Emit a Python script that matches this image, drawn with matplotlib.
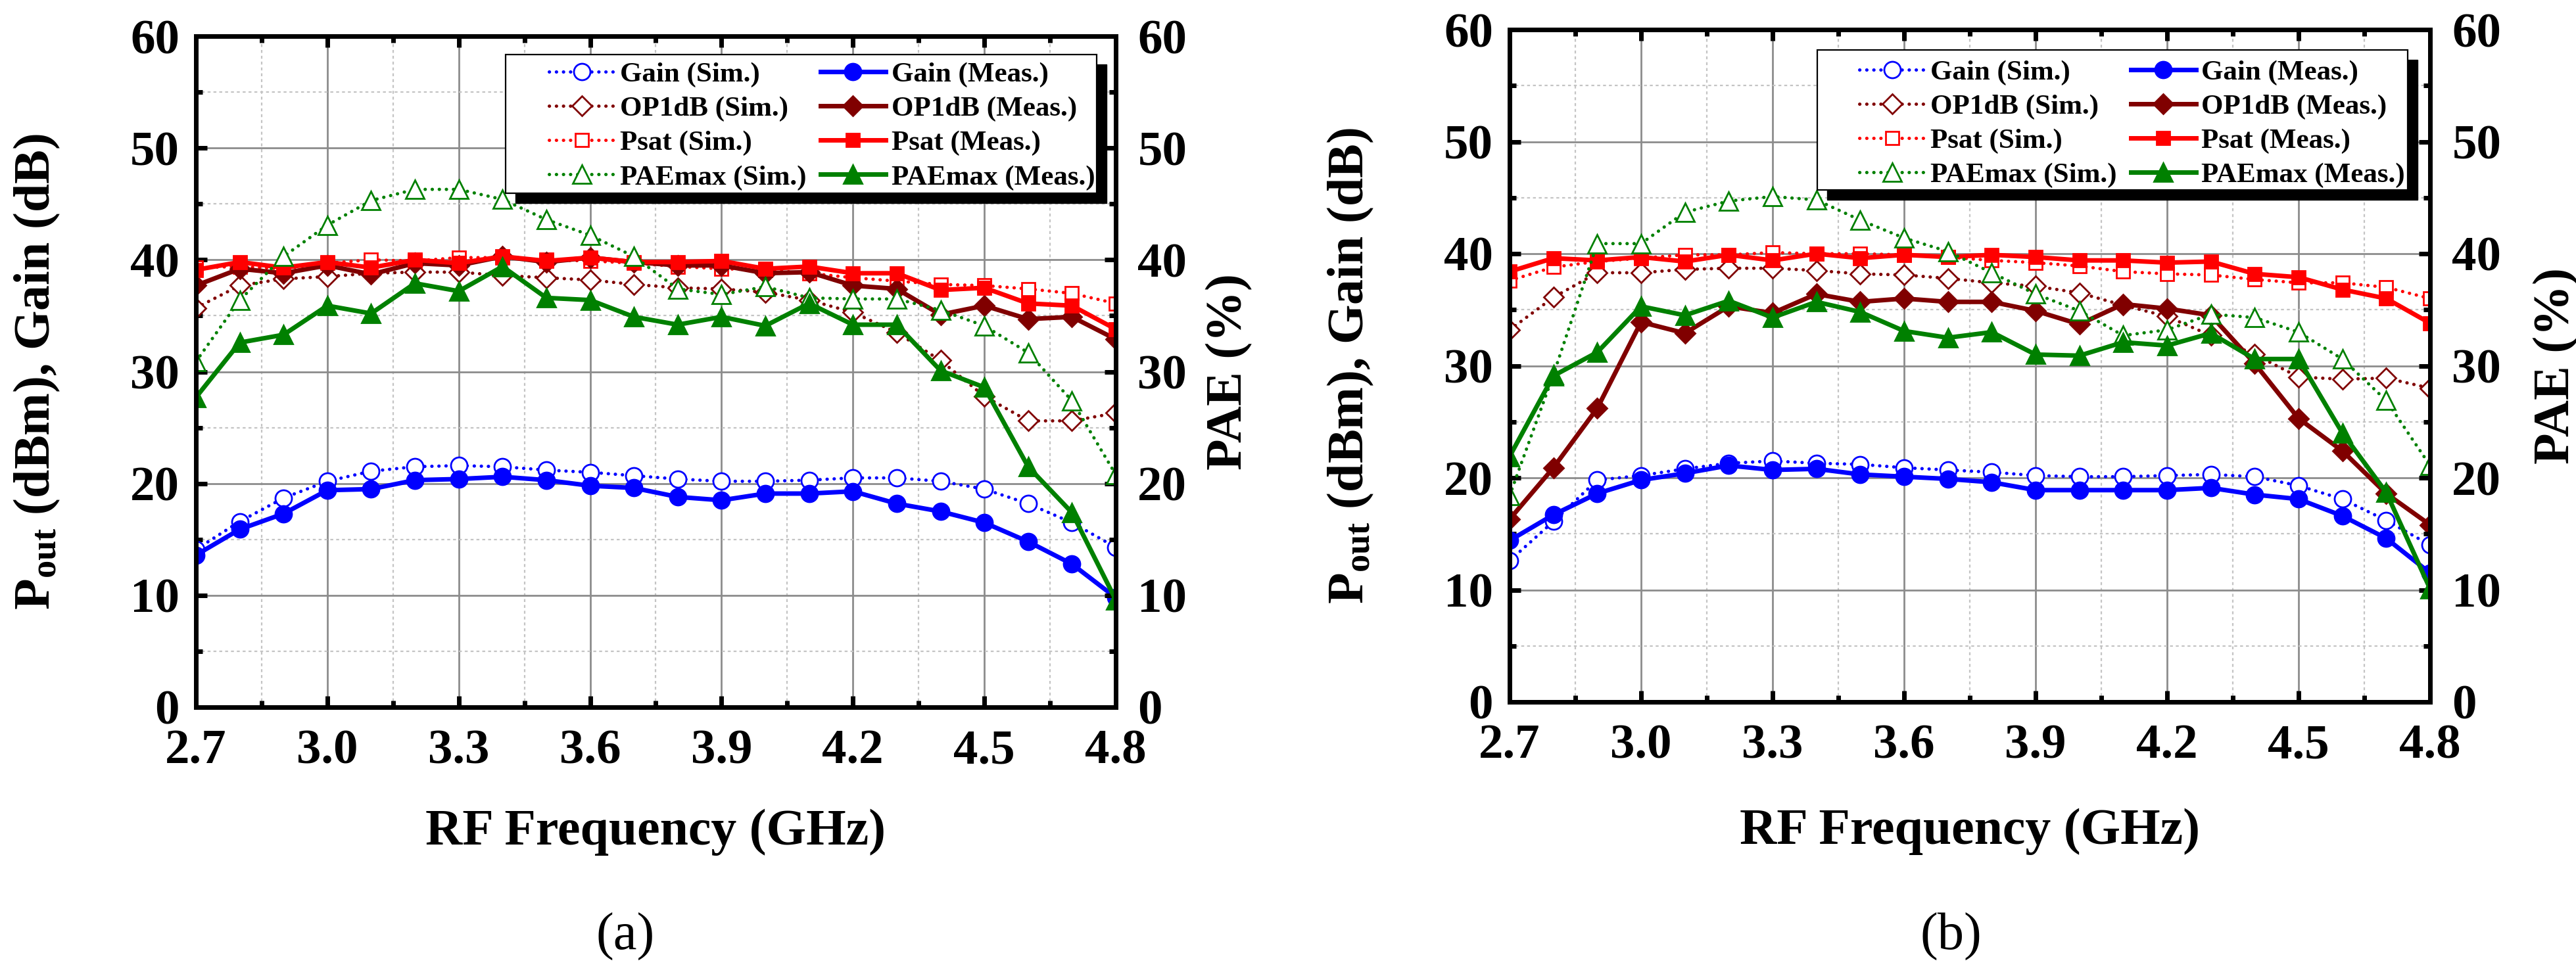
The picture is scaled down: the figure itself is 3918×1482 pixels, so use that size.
import matplotlib
matplotlib.use('Agg')
import matplotlib.pyplot as plt
from matplotlib.patches import Rectangle
from matplotlib.ticker import MultipleLocator

plt.rcParams['font.family'] = ['Liberation Serif', 'DejaVu Serif']
plt.rcParams['font.weight'] = 'bold'
plt.rcParams['axes.labelweight'] = 'bold'
plt.rcParams['mathtext.fontset'] = 'custom'
plt.rcParams['mathtext.rm'] = 'Liberation Serif:bold'
plt.rcParams['mathtext.it'] = 'Liberation Serif:bold'
plt.rcParams['mathtext.bf'] = 'Liberation Serif:bold'

# frequency points (GHz)
freq = [2.7, 2.8, 2.9, 3.0, 3.1, 3.2, 3.3, 3.4, 3.5, 3.6, 3.7,
        3.8, 3.9, 4.0, 4.1, 4.2, 4.3, 4.4, 4.5, 4.6, 4.7, 4.8]
xtick_vals = [2.7, 3.0, 3.3, 3.6, 3.9, 4.2, 4.5, 4.8]
xtick_labels = ['2.7', '3.0', '3.3', '3.6', '3.9', '4.2', '4.5', '4.8']
ytick_vals = [0, 10, 20, 30, 40, 50, 60]

# ---- panel (a) ----
gain_sim_a = [14.1, 16.6, 18.7, 20.2, 21.1, 21.5, 21.6, 21.5, 21.2, 21.0, 20.7,
              20.4, 20.2, 20.2, 20.3, 20.5, 20.5, 20.2, 19.5, 18.2, 16.5, 14.3]
gain_meas_a = [13.6, 15.9, 17.3, 19.4, 19.5, 20.3, 20.4, 20.6, 20.3, 19.8, 19.6,
               18.8, 18.5, 19.1, 19.1, 19.3, 18.2, 17.5, 16.5, 14.8, 12.8, 9.8]
op1db_sim_a = [35.7, 37.7, 38.3, 38.5, 38.8, 38.9, 38.9, 38.6, 38.4, 38.2, 37.8,
               37.5, 37.4, 37.1, 36.4, 35.3, 33.5, 31.0, 27.8, 25.6, 25.6, 26.3]
op1db_meas_a = [37.7, 39.2, 38.8, 39.5, 38.7, 39.7, 39.5, 40.3, 39.8, 40.2, 39.8,
                39.5, 39.5, 38.8, 38.9, 37.7, 37.4, 35.1, 35.9, 34.7, 34.9, 32.9]
psat_sim_a = [39.3, 39.4, 39.2, 39.7, 40.0, 39.9, 40.2, 40.2, 40.0, 39.9, 39.7,
              39.4, 39.2, 39.1, 38.8, 38.4, 38.1, 37.8, 37.7, 37.4, 37.0, 36.1]
psat_meas_a = [39.1, 39.8, 39.3, 39.8, 39.3, 40.0, 39.7, 40.3, 39.9, 40.2, 39.8,
               39.8, 39.9, 39.2, 39.4, 38.8, 38.8, 37.3, 37.5, 36.1, 35.9, 33.8]
pae_sim_a = [30.9, 36.4, 40.3, 43.1, 45.3, 46.3, 46.3, 45.4, 43.6, 42.2, 40.3,
             37.4, 36.9, 37.6, 36.6, 36.5, 36.5, 35.5, 34.1, 31.7, 27.4, 20.8]
pae_meas_a = [27.7, 32.6, 33.3, 35.9, 35.2, 37.9, 37.2, 39.4, 36.6, 36.4, 34.9,
              34.2, 34.9, 34.1, 36.1, 34.2, 34.2, 30.1, 28.6, 21.5, 17.4, 9.6]

# ---- panel (b) ----
gain_sim_b = [12.6, 16.1, 19.8, 20.2, 20.8, 21.3, 21.5, 21.3, 21.2, 20.9, 20.7,
              20.5, 20.2, 20.1, 20.1, 20.2, 20.3, 20.1, 19.3, 18.1, 16.2, 14.0]
gain_meas_b = [14.4, 16.7, 18.6, 19.8, 20.4, 21.1, 20.7, 20.8, 20.3, 20.1, 19.9,
               19.6, 18.9, 18.9, 18.9, 18.9, 19.1, 18.5, 18.1, 16.6, 14.6, 11.5]
op1db_sim_b = [33.2, 36.1, 38.3, 38.3, 38.6, 38.7, 38.7, 38.5, 38.2, 38.1, 37.8,
               37.4, 37.1, 36.5, 35.4, 34.4, 32.7, 31.0, 29.0, 28.8, 28.9, 28.0]
op1db_meas_b = [16.3, 20.9, 26.2, 33.9, 32.9, 35.3, 34.7, 36.4, 35.7, 36.0, 35.7,
                35.7, 34.9, 33.7, 35.5, 35.1, 34.5, 30.2, 25.3, 22.4, 18.6, 15.8]
psat_sim_b = [37.6, 38.8, 39.3, 39.6, 39.9, 39.9, 40.1, 40.0, 40.0, 39.9, 39.7,
              39.4, 39.2, 38.9, 38.4, 38.2, 38.1, 37.7, 37.4, 37.4, 37.0, 36.0]
psat_meas_b = [38.4, 39.6, 39.4, 39.7, 39.3, 39.9, 39.4, 40.0, 39.6, 39.9, 39.7,
               39.9, 39.7, 39.4, 39.4, 39.2, 39.3, 38.2, 37.9, 36.8, 36.0, 33.8]
pae_sim_b = [18.4, 29.2, 40.9, 40.9, 43.7, 44.7, 45.1, 44.8, 43.0, 41.4, 40.2,
             38.3, 36.4, 34.9, 32.7, 33.2, 34.6, 34.3, 33.0, 30.6, 26.9, 21.1]
pae_meas_b = [21.9, 29.1, 31.2, 35.3, 34.5, 35.8, 34.3, 35.7, 34.8, 33.1, 32.5,
              33.0, 31.0, 30.9, 32.1, 31.8, 32.9, 30.6, 30.6, 24.0, 18.7, 10.1]

BLUE = '#0000ff'
MAROON = '#800000'
RED = '#ff0000'
GREEN = '#008000'

SIM_DASH = (0.05, 2.1)
SIM_LW = 3.6
MEAS_LW = 5
MEW = 2.0
MS = {'o': 18, 'D': 15, 's': 15, '^': 20}

TICK_FS = 54
LABEL_FS = 56
LEG_FS = 31

W, H = 3918, 1482
fig = plt.figure(figsize=(W / 100, H / 100), dpi=100)


def sim_line(ax, y, color, marker):
    line, = ax.plot(freq, y, color=color, lw=SIM_LW, dashes=SIM_DASH,
                    dash_capstyle='round', marker=marker, ms=MS[marker],
                    mfc='white', mec=color, mew=MEW)
    return line


def meas_line(ax, y, color, marker):
    line, = ax.plot(freq, y, color=color, lw=MEAS_LW, marker=marker,
                    ms=MS[marker], mfc=color, mec=color, mew=MEW)
    return line


def draw_panel(rect, gs, gm, os_, om, ps, pm, aes, aem,
               leg_box, leg_anchor, ylab_x, rlab_x, xlab_y):
    ax = fig.add_axes(rect)
    ax2 = ax.twinx()

    # grid
    ax.set_axisbelow(True)
    ax.grid(which='major', color='#8c8c8c', lw=2.0, ls='-')
    ax.grid(which='minor', color='#c4c4c4', lw=1.6, ls=(0, (2, 2)))

    h_gs = sim_line(ax, gs, BLUE, 'o')
    h_os = sim_line(ax, os_, MAROON, 'D')
    h_ps = sim_line(ax, ps, RED, 's')
    h_gm = meas_line(ax, gm, BLUE, 'o')
    h_om = meas_line(ax, om, MAROON, 'D')
    h_pm = meas_line(ax, pm, RED, 's')
    h_as = sim_line(ax2, aes, GREEN, '^')
    h_am = meas_line(ax2, aem, GREEN, '^')

    for a in (ax, ax2):
        a.set_xlim(2.7, 4.8)
        a.set_ylim(0, 60)
        a.set_yticks(ytick_vals)
        a.yaxis.set_minor_locator(MultipleLocator(5))
        for sp in a.spines.values():
            sp.set_linewidth(5)
    ax.set_xticks(xtick_vals)
    ax.set_xticklabels(xtick_labels)
    ax.xaxis.set_minor_locator(MultipleLocator(0.15))

    ax.tick_params(which='major', direction='in', length=12, width=5,
                   top=True, labelsize=TICK_FS)
    ax.tick_params(which='minor', direction='in', length=7, width=5, top=True)
    ax.tick_params(axis='y', which='major', pad=18)
    ax.tick_params(axis='x', which='major', pad=24)
    ax2.tick_params(which='major', direction='in', length=12, width=5,
                    labelsize=TICK_FS, pad=24)
    ax2.tick_params(which='minor', direction='in', length=7, width=5)

    ax.set_xlabel('RF Frequency (GHz)', fontsize=LABEL_FS)
    ax.xaxis.set_label_coords(0.5, xlab_y)
    ax.set_ylabel(r'P$_{\mathrm{out}}$ (dBm), Gain (dB)', fontsize=LABEL_FS)
    ax.yaxis.set_label_coords(ylab_x, 0.5)
    ax2.set_ylabel('PAE (%)', fontsize=LABEL_FS)
    ax2.yaxis.set_label_coords(rlab_x, 0.5)

    # legend frame with black drop shadow
    x0, y0, x1, y1 = leg_box
    dx, dy = 15 / (rect[2] * W), 15 / (rect[3] * H)
    ax2.add_patch(Rectangle((x0 + dx, y0 - dy), x1 - x0, y1 - y0,
                            transform=ax2.transAxes, facecolor='black',
                            edgecolor='black', zorder=10, clip_on=False))
    ax2.add_patch(Rectangle((x0, y0), x1 - x0, y1 - y0,
                            transform=ax2.transAxes, facecolor='white',
                            edgecolor='black', lw=1.6, zorder=11, clip_on=False))
    leg = ax2.legend([h_gs, h_os, h_ps, h_as, h_gm, h_om, h_pm, h_am],
                     ['Gain (Sim.)', 'OP1dB (Sim.)', 'Psat (Sim.)', 'PAEmax (Sim.)',
                      'Gain (Meas.)', 'OP1dB (Meas.)', 'Psat (Meas.)', 'PAEmax (Meas.)'],
                     ncol=2, loc='center left', bbox_to_anchor=leg_anchor,
                     frameon=False, fontsize=LEG_FS, borderpad=0,
                     borderaxespad=0, handlelength=2.3, handletextpad=0.2,
                     columnspacing=0.5, labelspacing=0.3, numpoints=1)
    leg.set_zorder(12)
    return ax, ax2


# panel (a)
draw_panel([298 / W, (H - 1076) / H, 1399 / W, 1021 / H],
           gain_sim_a, gain_meas_a, op1db_sim_a, op1db_meas_a,
           psat_sim_a, psat_meas_a, pae_sim_a, pae_meas_a,
           (0.337, 0.766, 0.979, 0.973), (0.384, 0.866),
           -0.146, 1.098, -0.151)

# panel (b)
draw_panel([2296 / W, (H - 1068) / H, 1400 / W, 1023 / H],
           gain_sim_b, gain_meas_b, op1db_sim_b, op1db_meas_b,
           psat_sim_b, psat_meas_b, pae_sim_b, pae_meas_b,
           (0.334, 0.761, 0.976, 0.970), (0.380, 0.860),
           -0.146, 1.112, -0.158)

fig.text(951 / W, 1 - 1425 / H, '(a)', ha='center', va='center',
         fontsize=58, fontweight='normal')
fig.text(2967 / W, 1 - 1425 / H, '(b)', ha='center', va='center',
         fontsize=58, fontweight='normal')

fig.savefig('out.png', dpi=100)
